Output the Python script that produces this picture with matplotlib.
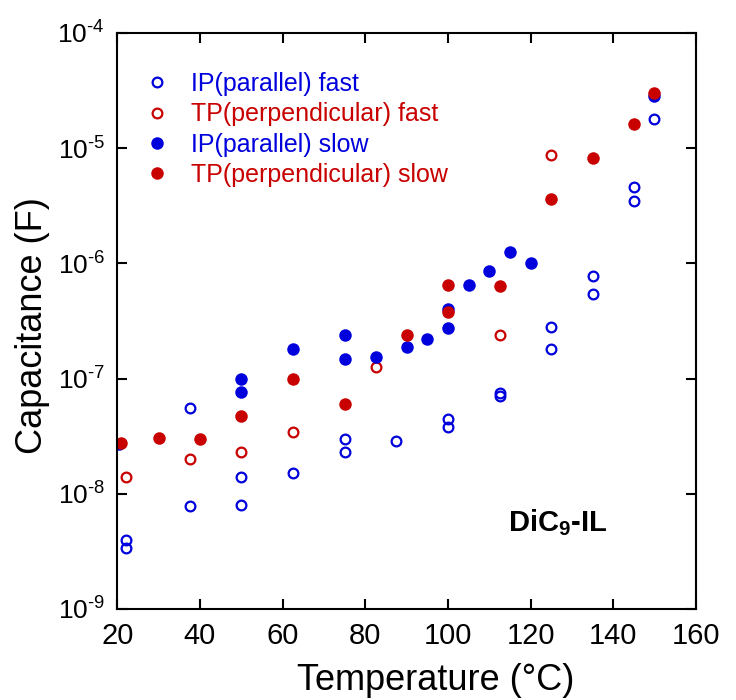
import matplotlib
matplotlib.use('Agg')
from matplotlib import pyplot as plt
from matplotlib.ticker import FixedLocator, FixedFormatter, NullLocator

plt.rcParams['font.family'] = ['Liberation Sans', 'DejaVu Sans']
plt.rcParams['mathtext.fontset'] = 'custom'
plt.rcParams['mathtext.rm'] = 'Liberation Sans'
plt.rcParams['mathtext.bf'] = 'Liberation Sans:bold'

BLUE = '#0000dd'
RED = '#c80000'

# IP (parallel) fast -- open blue
ip_fast_T = [22, 22, 37.5, 37.5, 50, 50, 62.5, 75, 75, 87.5, 100, 100,
             112.5, 112.5, 125, 125, 135, 135, 145, 145, 150]
ip_fast_C = [4.0e-9, 3.4e-9, 5.5e-8, 7.8e-9, 1.41e-8, 8.0e-9, 1.52e-8, 3.0e-8, 2.3e-8,
             2.9e-8, 4.5e-8, 3.8e-8, 7.5e-8, 7.0e-8, 2.8e-7, 1.8e-7, 7.8e-7, 5.4e-7,
             4.6e-6, 3.5e-6, 1.8e-5]

# TP (perpendicular) fast -- open red
tp_fast_T = [22, 37.5, 50, 62.5, 82.5, 112.5, 125]
tp_fast_C = [1.41e-8, 2.0e-8, 2.29e-8, 3.42e-8, 1.25e-7, 2.39e-7, 8.7e-6]

# IP (parallel) slow -- filled blue
ip_slow_T = [20.5, 50, 50, 62.5, 75, 75, 82.5, 90, 95, 100, 100, 105, 110, 115, 120, 150]
ip_slow_C = [2.7e-8, 9.9e-8, 7.7e-8, 1.8e-7, 2.4e-7, 1.49e-7, 1.55e-7, 1.89e-7, 2.22e-7,
             2.73e-7, 4.0e-7, 6.5e-7, 8.65e-7, 1.25e-6, 1.0e-6, 2.84e-5]

# TP (perpendicular) slow -- filled red
tp_slow_T = [21, 30, 40, 50, 62.5, 75, 90, 100, 100, 112.5, 125, 135, 145, 150]
tp_slow_C = [2.78e-8, 3.03e-8, 2.97e-8, 4.7e-8, 9.9e-8, 6.05e-8, 2.39e-7, 6.5e-7, 3.8e-7,
             6.4e-7, 3.6e-6, 8.2e-6, 1.62e-5, 3.0e-5]

x_ticks = [20, 40, 60, 80, 100, 120, 140, 160]
y_exps = [-9, -8, -7, -6, -5, -4]

fig = plt.figure(figsize=(7.36, 7.0), dpi=100)
ax = fig.add_axes([0.1594, 0.13, 0.786, 0.823])

ax.plot(ip_fast_T, ip_fast_C, 'o', ls='none', color=BLUE, mfc='none', mew=1.6, ms=7,
        label='IP(parallel) fast')
ax.plot(tp_fast_T, tp_fast_C, 'o', ls='none', color=RED, mfc='none', mew=1.6, ms=7,
        label='TP(perpendicular) fast')
ax.plot(ip_slow_T, ip_slow_C, 'o', ls='none', color=BLUE, mew=0, ms=9,
        label='IP(parallel) slow')
ax.plot(tp_slow_T, tp_slow_C, 'o', ls='none', color=RED, mew=0, ms=9,
        label='TP(perpendicular) slow')

ax.set_yscale('log')
ax.set_xlim(20, 160)
ax.set_ylim(1e-9, 1e-4)

ax.xaxis.set_major_locator(FixedLocator(x_ticks))
ax.yaxis.set_major_locator(FixedLocator([10.0 ** e for e in y_exps]))
ax.yaxis.set_major_formatter(FixedFormatter(
    [r'$\mathregular{10^{\text{-}%d}}$' % (-e) for e in y_exps]))
ax.yaxis.set_minor_locator(NullLocator())

ax.tick_params(which='major', direction='in', length=7, width=1.5,
               top=True, right=True)
ax.tick_params(axis='x', labelsize=21, pad=9)
ax.tick_params(axis='y', labelsize=19, pad=9)
for s in ax.spines.values():
    s.set_linewidth(1.5)

ax.set_xlabel('Temperature (°C)', fontsize=26)
ax.set_ylabel('Capacitance (F)', fontsize=26)
ax.xaxis.set_label_coords(0.551, -0.094)
ax.yaxis.set_label_coords(-0.1164, 0.492)

leg = ax.legend(loc='upper left', bbox_to_anchor=(0.047, 0.932), frameon=False,
                fontsize=18, handlelength=1.0, handletextpad=0.86,
                labelspacing=0.25, borderpad=0, borderaxespad=0)
for txt, c in zip(leg.get_texts(), [BLUE, RED, BLUE, RED]):
    txt.set_color(c)

ax.text(0.675, 0.15, r'DiC$_\mathbf{9}$-IL', transform=ax.transAxes,
        fontsize=21, fontweight='bold', ha='left', va='center')

plt.savefig('out.png', dpi=100)
